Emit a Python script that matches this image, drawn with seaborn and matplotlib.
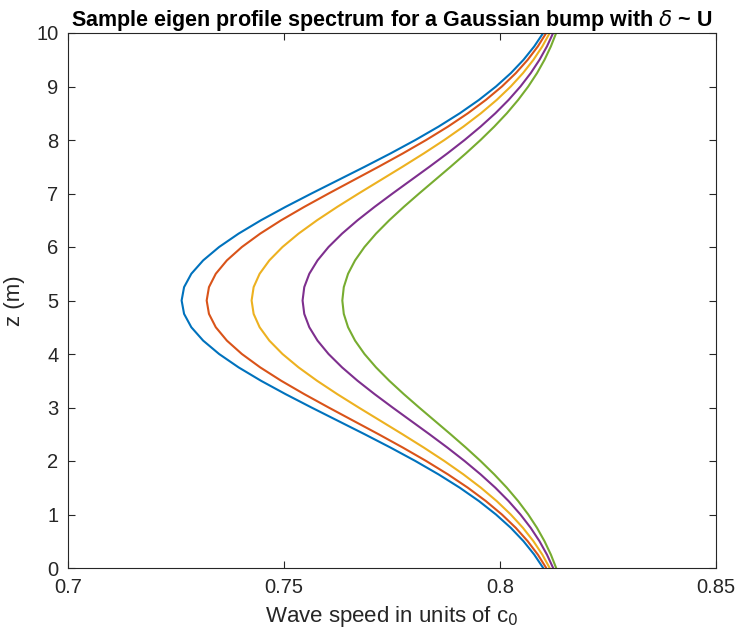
import matplotlib
matplotlib.use("Agg")
import matplotlib.pyplot as plt
import seaborn as sns
import pandas as pd

z = [0.0, 0.25, 0.5, 0.75, 1.0, 1.25, 1.5, 1.75, 2.0, 2.25, 2.5, 2.75, 3.0, 3.25, 3.5, 3.75,
     4.0, 4.25, 4.5, 4.75, 5.0, 5.25, 5.5, 5.75, 6.0, 6.25, 6.5, 6.75, 7.0, 7.25, 7.5, 7.75,
     8.0, 8.25, 8.5, 8.75, 9.0, 9.25, 9.5, 9.75, 10.0]

speed_1 = [0.81000, 0.80793, 0.80545, 0.80251, 0.79907, 0.79514, 0.79070, 0.78577, 0.78041,
           0.77468, 0.76868, 0.76252, 0.75636, 0.75036, 0.74467, 0.73949, 0.73498, 0.73129,
           0.72855, 0.72687, 0.72630, 0.72687, 0.72855, 0.73129, 0.73498, 0.73949, 0.74467,
           0.75036, 0.75636, 0.76252, 0.76868, 0.77468, 0.78041, 0.78577, 0.79070, 0.79514,
           0.79907, 0.80251, 0.80545, 0.80793, 0.81000]
speed_2 = [0.81070, 0.80876, 0.80642, 0.80366, 0.80044, 0.79674, 0.79257, 0.78795, 0.78291,
           0.77753, 0.77190, 0.76611, 0.76033, 0.75469, 0.74935, 0.74449, 0.74025, 0.73678,
           0.73421, 0.73263, 0.73210, 0.73263, 0.73421, 0.73678, 0.74025, 0.74449, 0.74935,
           0.75469, 0.76033, 0.76611, 0.77190, 0.77753, 0.78291, 0.78795, 0.79257, 0.79674,
           0.80044, 0.80366, 0.80642, 0.80876, 0.81070]
speed_3 = [0.81150, 0.80980, 0.80775, 0.80532, 0.80249, 0.79925, 0.79559, 0.79153, 0.78711,
           0.78238, 0.77743, 0.77236, 0.76728, 0.76233, 0.75765, 0.75337, 0.74965, 0.74661,
           0.74436, 0.74297, 0.74250, 0.74297, 0.74436, 0.74661, 0.74965, 0.75337, 0.75765,
           0.76233, 0.76728, 0.77236, 0.77743, 0.78238, 0.78711, 0.79153, 0.79559, 0.79925,
           0.80249, 0.80532, 0.80775, 0.80980, 0.81150]
speed_4 = [0.81230, 0.81087, 0.80915, 0.80711, 0.80473, 0.80200, 0.79893, 0.79551, 0.79180,
           0.78783, 0.78367, 0.77940, 0.77513, 0.77097, 0.76703, 0.76344, 0.76031, 0.75776,
           0.75586, 0.75469, 0.75430, 0.75469, 0.75586, 0.75776, 0.76031, 0.76344, 0.76703,
           0.77097, 0.77513, 0.77940, 0.78367, 0.78783, 0.79180, 0.79551, 0.79893, 0.80200,
           0.80473, 0.80711, 0.80915, 0.81087, 0.81230]
speed_5 = [0.81300, 0.81178, 0.81031, 0.80857, 0.80654, 0.80421, 0.80159, 0.79867, 0.79550,
           0.79211, 0.78856, 0.78492, 0.78128, 0.77773, 0.77437, 0.77130, 0.76863, 0.76645,
           0.76483, 0.76384, 0.76350, 0.76384, 0.76483, 0.76645, 0.76863, 0.77130, 0.77437,
           0.77773, 0.78128, 0.78492, 0.78856, 0.79211, 0.79550, 0.79867, 0.80159, 0.80421,
           0.80654, 0.80857, 0.81031, 0.81178, 0.81300]

x_ticks = [0.7, 0.75, 0.8, 0.85]
x_tick_labels = ["0.7", "0.75", "0.8", "0.85"]
y_ticks = [0, 1, 2, 3, 4, 5, 6, 7, 8, 9, 10]

colors = ["#0072BD", "#D95319", "#EDB120", "#7E2F8E", "#77AC30"]
series = [speed_1, speed_2, speed_3, speed_4, speed_5]

rows = []
for i, s in enumerate(series):
    for zz, v in zip(z, s):
        rows.append({"curve": f"c{i+1}", "z": zz, "speed": v})
df = pd.DataFrame(rows)

sns.set_style("white")
plt.rcParams["font.family"] = ["Liberation Sans", "DejaVu Sans"]
plt.rcParams["mathtext.fontset"] = "dejavusans"

fig = plt.figure(figsize=(7.36, 6.35), dpi=100)
ax = fig.add_axes([68/736, 1-568/635, (716-68)/736, (568-33)/635])

sns.lineplot(data=df, x="speed", y="z", hue="curve", palette=colors, sort=False,
             estimator=None, linewidth=1.5, legend=False, ax=ax)

ax.set_xlim(0.7, 0.85)
ax.set_ylim(0, 10)
ax.set_xticks(x_ticks)
ax.set_xticklabels(x_tick_labels)
ax.set_yticks(y_ticks)
tc = "#262626"
ax.tick_params(direction="in", length=5, width=0.8, colors=tc, labelsize=14.5,
               top=True, right=True, bottom=True, left=True, pad=7)
for sp in ax.spines.values():
    sp.set_visible(True)
    sp.set_color(tc)
    sp.set_linewidth(0.8)

ax.set_xlabel("Wave speed in units of c$_0$", fontsize=16, color=tc, labelpad=5)
ax.set_ylabel("z (m)", fontsize=16, color=tc, labelpad=8)
ax.set_title(r"Sample eigen profile spectrum for a Gaussian bump with $\delta$ ~ U",
             fontsize=15.5, fontweight="bold", color="black", pad=5)

fig.savefig("out.png", dpi=100)
